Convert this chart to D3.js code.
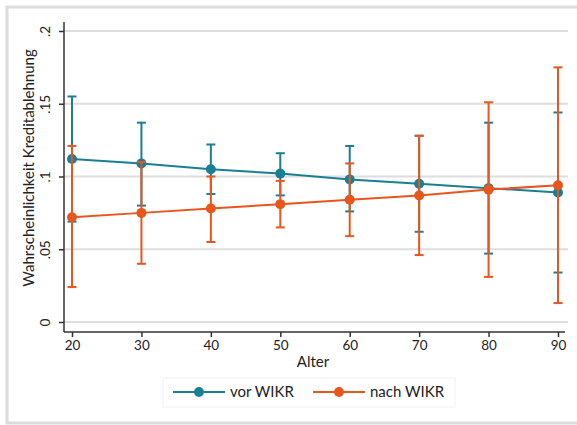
<!DOCTYPE html>
<html>
<head>
<meta charset="utf-8">
<script src="https://cdn.jsdelivr.net/npm/d3@7"></script>
<style>
  body { margin: 0; background: #fff; }
  svg text { font-family: Lato, "Open Sans", sans-serif; fill: #222; }
</style>
</head>
<body>
<script>
// data
const ages = [20, 30, 40, 50, 60, 70, 80, 90];

const vorMean = [0.112, 0.109, 0.105, 0.102, 0.098, 0.095, 0.092, 0.089];
const vorLow  = [0.069, 0.080, 0.088, 0.087, 0.076, 0.062, 0.047, 0.034];
const vorHigh = [0.155, 0.137, 0.122, 0.116, 0.121, 0.128, 0.137, 0.144];

const nachMean = [0.072, 0.075, 0.078, 0.081, 0.084, 0.087, 0.091, 0.094];
const nachLow  = [0.024, 0.040, 0.055, 0.065, 0.059, 0.046, 0.031, 0.013];
const nachHigh = [0.121, 0.110, 0.100, 0.097, 0.109, 0.128, 0.151, 0.175];

const yTicks = [0, 0.05, 0.1, 0.15, 0.2];
const yTickLabels = ['0', '.05', '.1', '.15', '.2'];
const xTicks = [20, 30, 40, 50, 60, 70, 80, 90];

const seriesNames = ['vor WIKR', 'nach WIKR'];
const colors = ['#1a7f96', '#e9561b'];

const width = 577;
const height = 425;

const svg = d3.select('body').append('svg')
  .attr('width', width)
  .attr('height', height);

// outer frame (right edge falls outside the picture)
svg.append('rect')
  .attr('x', 7).attr('y', 7)
  .attr('width', 590).attr('height', 416)
  .attr('fill', 'none')
  .attr('stroke', '#dcdcdc')
  .attr('stroke-width', 3);

const x = d3.scaleLinear().domain([20, 90]).range([72, 558]);
const y = d3.scaleLinear().domain([0, 0.2]).range([322, 31]);

const plotLeft = 64;
const plotRight = 568;
const axisY = 332;

// grid lines
svg.append('g')
  .selectAll('line')
  .data(yTicks)
  .join('line')
  .attr('x1', plotLeft).attr('x2', plotRight)
  .attr('y1', (d) => y(d)).attr('y2', (d) => y(d))
  .attr('stroke', '#dedede')
  .attr('stroke-width', 2);

// y axis, labels rotated like stata does
const yAxis = svg.append('g')
  .attr('transform', `translate(${plotLeft},0)`)
  .call(d3.axisLeft(y).tickValues(yTicks)
    .tickFormat((d, i) => yTickLabels[i]).tickSize(5));
yAxis.select('.domain').attr('d', `M0,22V${axisY}`);
yAxis.selectAll('path, line').attr('stroke', '#333').attr('stroke-width', 1.5);
yAxis.selectAll('.tick text')
  .attr('font-size', 13.5)
  .attr('text-anchor', 'middle')
  .attr('x', 0).attr('y', 0).attr('dy', 0)
  .attr('transform', 'translate(-14,0) rotate(-90)');

// x axis
const xAxis = svg.append('g')
  .attr('transform', `translate(0,${axisY})`)
  .call(d3.axisBottom(x).tickValues(xTicks).tickSize(5).tickPadding(3));
xAxis.select('.domain').attr('d', `M${plotLeft},0H${plotRight - 3}`);
xAxis.selectAll('path, line').attr('stroke', '#333').attr('stroke-width', 1.5);
xAxis.selectAll('text').attr('font-size', 13.5);

// axis titles
svg.append('text')
  .attr('transform', 'translate(34,168) rotate(-90)')
  .attr('text-anchor', 'middle')
  .attr('font-size', 15)
  .text('Wahrscheinlichkeit Kreditablehnung');

svg.append('text')
  .attr('x', 313).attr('y', 367)
  .attr('text-anchor', 'middle')
  .attr('font-size', 15)
  .text('Alter');

const series = [
  { name: seriesNames[0], color: colors[0], mean: vorMean, low: vorLow, high: vorHigh },
  { name: seriesNames[1], color: colors[1], mean: nachMean, low: nachLow, high: nachHigh },
];

const cap = 4.5;

series.forEach((s) => {
  const g = svg.append('g');
  const pts = ages.map((a, i) => ({ a, m: s.mean[i], lo: s.low[i], hi: s.high[i] }));

  // error bars
  g.selectAll('line.bar')
    .data(pts)
    .join('line')
    .attr('class', 'bar')
    .attr('x1', (d) => x(d.a)).attr('x2', (d) => x(d.a))
    .attr('y1', (d) => y(d.lo)).attr('y2', (d) => y(d.hi))
    .attr('stroke', s.color).attr('stroke-width', 2);
  ['lo', 'hi'].forEach((k) => {
    g.selectAll(`line.cap-${k}`)
      .data(pts)
      .join('line')
      .attr('class', `cap-${k}`)
      .attr('x1', (d) => x(d.a) - cap).attr('x2', (d) => x(d.a) + cap)
      .attr('y1', (d) => y(d[k])).attr('y2', (d) => y(d[k]))
      .attr('stroke', s.color).attr('stroke-width', 2);
  });

  // connecting line + markers
  g.append('path')
    .datum(pts)
    .attr('fill', 'none')
    .attr('stroke', s.color)
    .attr('stroke-width', 2)
    .attr('d', d3.line().x((d) => x(d.a)).y((d) => y(d.m)));

  g.selectAll('circle')
    .data(pts)
    .join('circle')
    .attr('cx', (d) => x(d.a)).attr('cy', (d) => y(d.m))
    .attr('r', 5)
    .attr('fill', s.color);
});

// legend
const legend = svg.append('g');
legend.append('rect')
  .attr('x', 163).attr('y', 378)
  .attr('width', 292).attr('height', 29)
  .attr('fill', 'none')
  .attr('stroke', '#f2f2f2');

const legendX = [173, 313];
series.forEach((s, i) => {
  const lx = legendX[i];
  legend.append('line')
    .attr('x1', lx).attr('x2', lx + 52)
    .attr('y1', 392).attr('y2', 392)
    .attr('stroke', s.color).attr('stroke-width', 2);
  legend.append('circle')
    .attr('cx', lx + 26).attr('cy', 392).attr('r', 5)
    .attr('fill', s.color);
  legend.append('text')
    .attr('x', lx + 57).attr('y', 397)
    .attr('font-size', 15)
    .text(s.name);
});
</script>
</body>
</html>
